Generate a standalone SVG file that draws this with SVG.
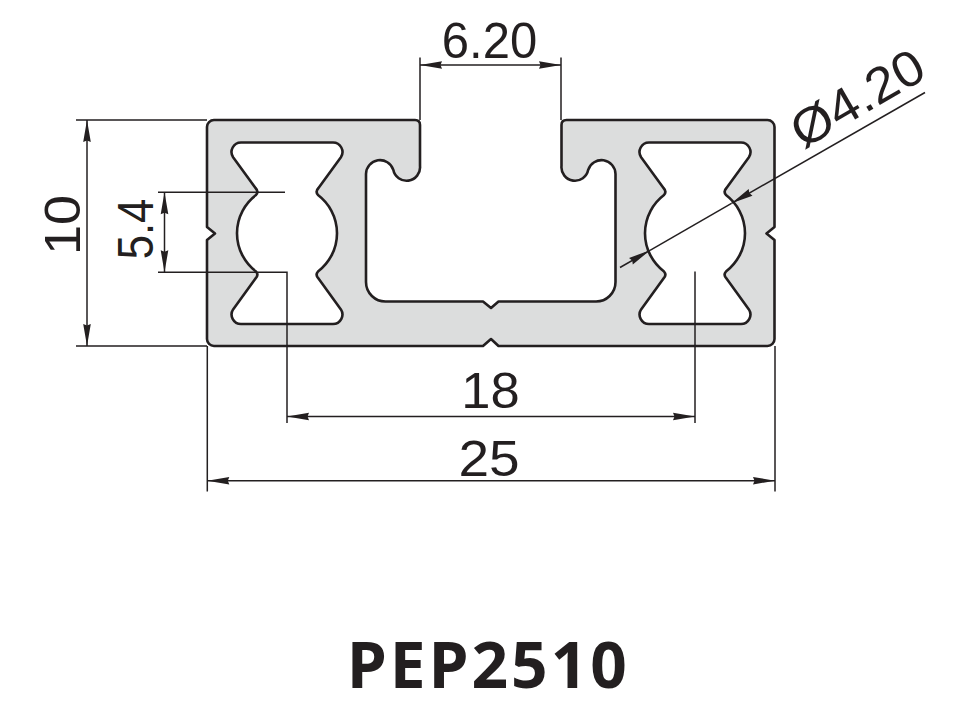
<svg xmlns="http://www.w3.org/2000/svg" width="954" height="701" viewBox="0 0 954 701">
<style>
.bg{fill:#ffffff}
.body{fill:#dcdddd;stroke:#231f20;stroke-width:2.6;stroke-linejoin:round}
.slot{fill:#ffffff;stroke:#231f20;stroke-width:2.6;stroke-linejoin:round}
.ext{fill:none;stroke:#231f20;stroke-width:1.5}
.dim{fill:none;stroke:#231f20;stroke-width:1.5;marker-start:url(#arrow);marker-end:url(#arrow)}
.lead{fill:none;stroke:#231f20;stroke-width:1.5;marker-end:url(#arrow)}
.lab{font-family:"Liberation Sans",Arial,sans-serif;font-size:50px;fill:#231f20;text-anchor:middle}
.title{font-family:"Noto Sans","Open Sans",sans-serif;font-weight:700;font-size:64px;letter-spacing:3px;fill:#231f20;text-anchor:middle}
</style>
<defs>
<marker id="arrow" markerUnits="userSpaceOnUse" markerWidth="26" markerHeight="10" viewBox="-23 -5 26 10" refX="0" refY="0" orient="auto-start-reverse">
<path d="M0 0L-22 -3.8L-20.5 0L-22 3.8Z" fill="#231f20"/>
</marker>
<path id="slotShape" d="M241 142.5H333A9.5 9.5 0 0 1 340.9 157.2L318.5 188Q315 191.5 318 195A48 48 0 0 1 318 271.5Q315 275 318.5 278.5L340.9 309.4A9.5 9.5 0 0 1 333 324H241A9.5 9.5 0 0 1 233.1 309.4L255.5 278.5Q259 275 256 271.5A48 48 0 0 1 256 195Q259 191.5 255.5 188L233.1 157.2A9.5 9.5 0 0 1 241 142.5Z"/>
</defs>
<rect class="bg" width="954" height="701"/>
<g id="profile">
<path class="body" d="M214 120H415Q420 120 420 125V166A13.5 13.5 0 0 1 393.3 169.8A14 14 0 0 0 366 174V282A19.5 19.5 0 0 0 386 301.5H483L491 308L498.5 301.5H595.5A19.5 19.5 0 0 0 615.5 282V174A14 14 0 0 0 588.2 169.8A13.5 13.5 0 0 1 561.5 166V125Q561.5 120 566.5 120H767.5A7 7 0 0 1 774.5 127V227L766.5 233.5L774.5 240V339A7 7 0 0 1 767.5 346H498.5L491 339L483 346H214A7 7 0 0 1 207 339V240L215 233.5L207 227V127A7 7 0 0 1 214 120Z"/>
<use class="slot" href="#slotShape"/>
<use class="slot" href="#slotShape" x="408"/>
</g>
<g id="connectors">
<path class="ext" d="M76 120H207M76 346H207M158 192.3H285M158 272.3H287V423M695 271.5V423M207.3 346V491.5M775 346V491.5M420 57.5V120M561 57.5V120"/>
<line class="dim" x1="87" y1="120" x2="87" y2="346"/>
<line class="dim" x1="164.5" y1="192.3" x2="164.5" y2="272.3"/>
<line class="dim" x1="287" y1="416.5" x2="695" y2="416.5"/>
<line class="dim" x1="207.3" y1="480.7" x2="775" y2="480.7"/>
<line class="dim" x1="420" y1="65" x2="561" y2="65"/>
<line class="lead" x1="620" y1="267.5" x2="650" y2="250.3"/>
<line class="lead" x1="925" y1="92.5" x2="731.5" y2="203.3"/>
<line class="ext" x1="650" y1="250.3" x2="731.5" y2="203.3"/>
</g>
<g id="labels">
<text class="lab" transform="translate(489.5 58) scale(0.98 1)">6.20</text>
<text class="lab" transform="translate(80 225) rotate(-90) scale(1.08 1)">10</text>
<text class="lab" transform="translate(153 229) rotate(-90) scale(0.87 1)">5.4</text>
<text class="lab" transform="translate(490.5 408) scale(1.05 1)">18</text>
<text class="lab" transform="translate(489 476) scale(1.1 1)">25</text>
<text class="lab" transform="translate(866 113) rotate(-30) scale(1.07 1)">Ø4.20</text>
</g>
<g id="title">
<text class="title" x="488.5" y="687.5">PEP2510</text>
</g>
</svg>
